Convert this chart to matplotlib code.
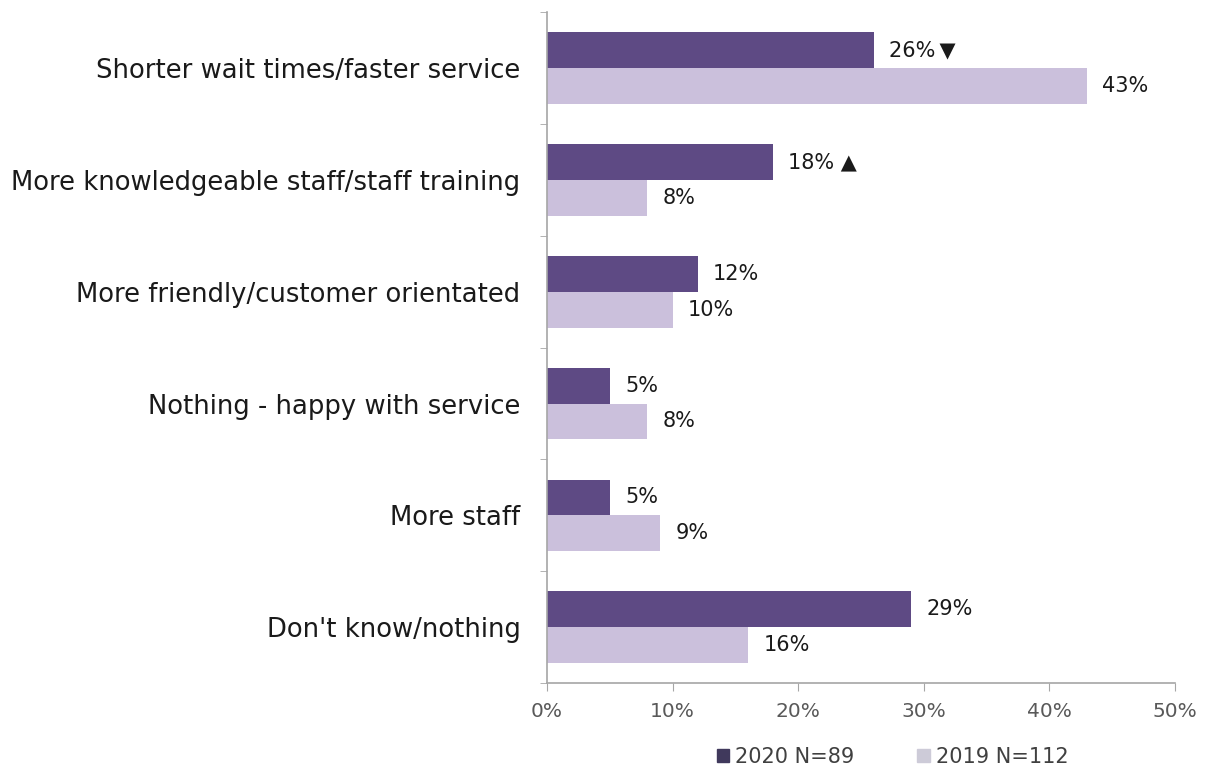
import matplotlib
matplotlib.use('Agg')
import matplotlib.pyplot as plt
import numpy as np

# survey answers, top to bottom
categories = ['Shorter wait times/faster service',
              'More knowledgeable staff/staff training',
              'More friendly/customer orientated',
              'Nothing - happy with service',
              'More staff',
              "Don't know/nothing"]
pct_2020 = [26, 18, 12, 5, 5, 29]
pct_2019 = [43, 8, 10, 8, 9, 16]
# significance markers on the 2020 values
sig_2020 = ['\u2009\u25BC', ' \u25B2', '', '', '', '']
series_names = ['2020 N=89', '2019 N=112']
xticks = [0, 10, 20, 30, 40, 50]

dark = '#5e4a84'
light = '#cbc0dc'
axis_grey = '#a6a6a6'
text_col = '#1a1a1a'

plt.rcParams['font.family'] = ['DejaVu Sans']

fig = plt.figure(figsize=(12.11, 7.7), dpi=100)
ax = fig.add_axes([0.4517, 0.113, 0.5186, 0.871])

y = np.arange(len(categories))
h = 0.32
ax.barh(y - h / 2, pct_2020, height=h, color=dark, label=series_names[0])
ax.barh(y + h / 2, pct_2019, height=h, color=light, label=series_names[1])

for i in range(len(categories)):
    ax.annotate('%d%%%s' % (pct_2020[i], sig_2020[i]), (pct_2020[i], y[i] - h / 2),
                xytext=(11, 0), textcoords='offset points', va='center', ha='left',
                fontsize=15, color=text_col)
    ax.annotate('%d%%' % pct_2019[i], (pct_2019[i], y[i] + h / 2),
                xytext=(11, 0), textcoords='offset points', va='center', ha='left',
                fontsize=15, color=text_col)

ax.set_xlim(0, 50)
ax.set_ylim(len(categories) - 0.5, -0.5)
ax.set_xticks(xticks)
ax.set_xticklabels(['%d%%' % t for t in xticks], fontsize=14.5, color='#595959')

# category names sit at group centres, tick marks at group boundaries
ax.set_yticks(y)
ax.set_yticklabels(categories, fontsize=18.6, color=text_col)
ax.tick_params(axis='y', length=0, pad=19)
ax.set_yticks(np.arange(len(categories) + 1) - 0.5, minor=True)
ax.tick_params(axis='y', which='minor', length=5, color=axis_grey)
ax.tick_params(axis='x', length=6, color=axis_grey, pad=8)

for s in ['top', 'right']:
    ax.spines[s].set_visible(False)
for s in ['left', 'bottom']:
    ax.spines[s].set_color(axis_grey)
    ax.spines[s].set_linewidth(1.2)

fig.legend(handles=[plt.Rectangle((0, 0), 1, 1, color='#40395c'),
                    plt.Rectangle((0, 0), 1, 1, color='#cdcbd8')],
           labels=series_names, loc='center', bbox_to_anchor=(0.737, 0.017), ncol=2,
           frameon=False, fontsize=15, handlelength=0.6, handleheight=0.6,
           handletextpad=0.3, columnspacing=3.0, labelcolor='#404040')

fig.savefig('out.png', dpi=100)
